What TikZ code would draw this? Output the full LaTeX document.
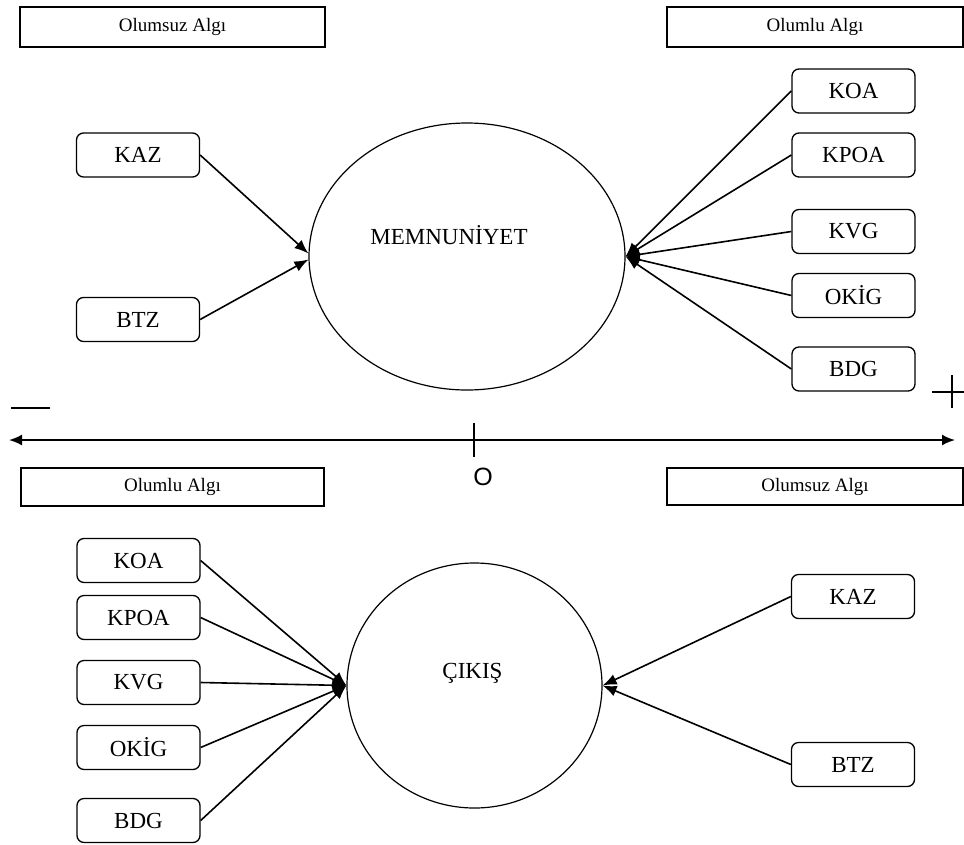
\documentclass[tikz,border=0pt]{standalone}
\usepackage{fontspec}
\setmainfont{Liberation Serif}
\newfontfamily\sansf{Liberation Sans}
\usetikzlibrary{arrows.meta,shapes.geometric}
\begin{document}
\begin{tikzpicture}[x=1pt,y=-1pt,
  rbox/.style={draw, line width=1.3pt, rounded corners=7pt, minimum width=123pt, minimum height=44pt, inner sep=0pt, font=\fontsize{23}{26}\selectfont},
  lbox/.style={draw, line width=1.4pt, minimum height=40pt, inner sep=0pt, font=\fontsize{19}{22}\selectfont},
  ell/.style={draw, ellipse, line width=1.2pt, inner sep=0pt},
  conn/.style={line width=1.6pt},
  arr/.style={conn, -{Latex[length=14pt,width=11pt]}},
  lbl/.style={inner sep=0pt, font=\fontsize{23}{26}\selectfont},
  sign/.style={line width=1.6pt}
]
\useasboundingbox (0,0) rectangle (964,844);

% ---------- top half ----------
\node[lbox, minimum width=305pt] (neg1) at (172.5,27) {Olumsuz Algı};
\node[lbox, minimum width=296pt] (pos1) at (815,27) {Olumlu Algı};

\node[rbox] (kaz1) at (138,155) {KAZ};
\node[rbox] (btz1) at (138,319.5) {BTZ};

\node[ell, minimum width=316pt, minimum height=267pt] (mem) at (467,256.5) {};
\node[lbl] (memt) at (449,235) {MEMNUNİYET};

\node[rbox] (koa1) at (853.5,91) {KOA};
\node[rbox] (kpoa1) at (853.5,155) {KPOA};
\node[rbox] (kvg1) at (853.5,231.5) {KVG};
\node[rbox] (okig1) at (853.5,295.5) {OKİG};
\node[rbox] (bdg1) at (853.5,369) {BDG};

\draw[arr] (kaz1.east) -- ([yshift=3pt]mem.west);
\draw[arr] (btz1.east) -- ([yshift=-3pt]mem.west);
\foreach \n in {koa1,kpoa1,kvg1,okig1,bdg1}
  \draw[arr] (\n.west) -- (mem.east);

% ---------- axis ----------
\coordinate (m1) at (11,408);
\coordinate (m2) at (50,408);
\draw[sign] (m1) -- (m2);
\coordinate (p1) at (932,392);
\coordinate (p2) at (964,392);
\coordinate (p3) at (952,375);
\coordinate (p4) at (952,408);
\draw[sign] (p1) -- (p2);
\draw[sign] (p3) -- (p4);

\coordinate (axl) at (9,440);
\coordinate (axr) at (955,440);
\draw[line width=1.9pt, {Latex[length=13pt,width=11pt]}-{Latex[length=13pt,width=11pt]}] (axl) -- (axr);
\coordinate (t1) at (474,423);
\coordinate (t2) at (474,457);
\draw[sign] (t1) -- (t2);
\node[inner sep=0pt, font=\sansf\fontsize{25}{28}\selectfont] (zero) at (483,477) {O};

% ---------- bottom half ----------
\node[lbox, minimum width=303pt, minimum height=38pt] (pos2) at (172.5,487) {Olumlu Algı};
\node[lbox, minimum width=296pt, minimum height=37pt] (neg2) at (815,486.5) {Olumsuz Algı};

\node[rbox] (koa2) at (138.5,560.5) {KOA};
\node[rbox] (kpoa2) at (138.5,617.5) {KPOA};
\node[rbox] (kvg2) at (138.5,682.5) {KVG};
\node[rbox] (okig2) at (138.5,747.5) {OKİG};
\node[rbox] (bdg2) at (138.5,820.5) {BDG};

\node[ell, minimum width=255pt, minimum height=245pt] (cik) at (474.5,685.5) {};
\node[lbl] (cikt) at (472.5,673) {ÇIKIŞ};

\node[rbox] (kaz2) at (853,596.5) {KAZ};
\node[rbox] (btz2) at (853,764.5) {BTZ};

\foreach \n in {koa2,kpoa2,kvg2,okig2,bdg2}
  \draw[arr] (\n.east) -- (cik.west);
\draw[arr] (kaz2.west) -- (cik.east);
\draw[arr] (btz2.west) -- (cik.east);
\end{tikzpicture}
\end{document}
